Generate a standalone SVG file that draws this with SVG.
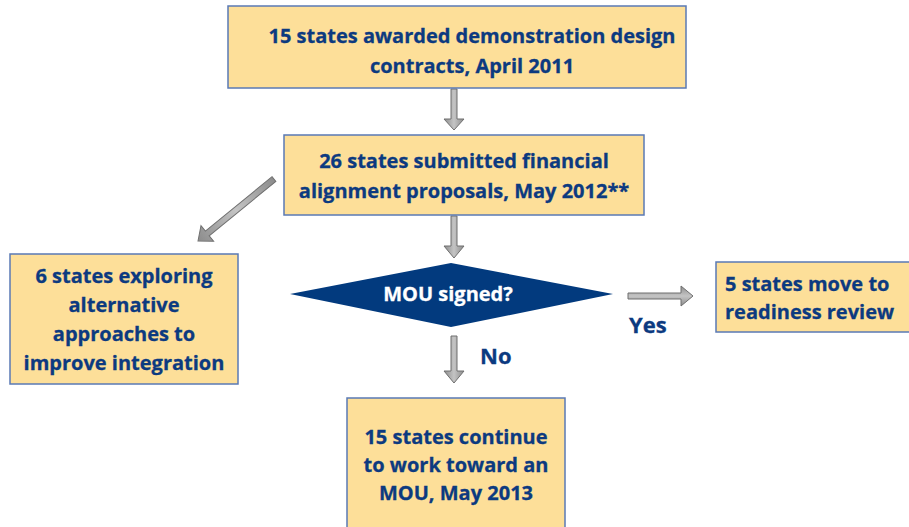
<svg xmlns="http://www.w3.org/2000/svg" width="909" height="527" viewBox="0 0 909 527">
  <defs>
    <linearGradient id="gv" x1="0" y1="0" x2="1" y2="0">
      <stop offset="0" stop-color="#8c8c8c"/>
      <stop offset="0.5" stop-color="#c4c4c4"/>
      <stop offset="1" stop-color="#8c8c8c"/>
    </linearGradient>
    <linearGradient id="gh" x1="0" y1="0" x2="0" y2="1">
      <stop offset="0" stop-color="#8c8c8c"/>
      <stop offset="0.5" stop-color="#c4c4c4"/>
      <stop offset="1" stop-color="#8c8c8c"/>
    </linearGradient>
    <style>
      .box { fill: #fddf99; stroke: #5a7ab5; stroke-width: 1.5; }
      .t { font-family: "Open Sans", Lato, "Liberation Sans", sans-serif; font-weight: bold; font-size: 20px; fill: #0c3a80; stroke: #0c3a80; stroke-width: 0.3; }
      .c { text-anchor: middle; }
      .lbl { font-size: 22px; }
      .arr { stroke: #6f6f6f; stroke-width: 1; }
    </style>
  </defs>

  <g id="connectors">
    <!-- box 1 to box 2 -->
    <path class="arr" fill="url(#gv)" d="M451,89 H457 V119 H464 L454,130 L444,119 H451 Z"/>
    <!-- box 2 to diamond -->
    <path class="arr" fill="url(#gv)" d="M451,216 H457 V246 H464 L454,258 L444,246 H451 Z"/>
    <!-- box 2 to left box (diagonal) -->
    <path class="arr" fill="url(#gv)" transform="translate(198,241) rotate(-39.2)" d="M0,0 L12,-10 L12,-3 L98,-3 L98,3 L12,3 L12,10 Z"/>
    <!-- Yes -->
    <path class="arr" fill="url(#gh)" d="M628,293 H681 V286 L693,296 L681,306 V299 H628 Z"/>
    <!-- No -->
    <path class="arr" fill="url(#gv)" d="M451,336 H457 V371 H464 L454,383 L444,371 H451 Z"/>
    <text class="t lbl" x="629" y="333">Yes</text>
    <text class="t lbl" x="480" y="364">No</text>
  </g>

  <g id="awarded">
    <rect class="box" x="228" y="6" width="458" height="82"/>
    <text class="t c" x="472" y="43">15 states awarded demonstration design</text>
    <text class="t c" x="472" y="73">contracts, April 2011</text>
  </g>

  <g id="submitted">
    <rect class="box" x="284" y="135" width="360" height="80"/>
    <text class="t c" x="464" y="168">26 states submitted financial</text>
    <text class="t c" x="464" y="198">alignment proposals, May 2012**</text>
  </g>

  <g id="exploring">
    <rect class="box" x="10" y="254" width="228" height="130"/>
    <text class="t c" x="124" y="283">6 states exploring</text>
    <text class="t c" x="124" y="312">alternative</text>
    <text class="t c" x="124" y="341">approaches to</text>
    <text class="t c" x="124" y="370">improve integration</text>
  </g>

  <g id="decision">
    <polygon points="290,294 451,263 613,294 451,327" fill="#023a7e"/>
    <text class="t c" x="448" y="301" style="fill:#fff;stroke:#fff">MOU signed?</text>
  </g>

  <g id="readiness">
    <rect class="box" x="716" y="262" width="200" height="70"/>
    <text class="t" x="725" y="291">5 states move to</text>
    <text class="t" x="725" y="319">readiness review</text>
  </g>

  <g id="continue">
    <rect class="box" x="347" y="398" width="218" height="140"/>
    <text class="t c" x="456" y="444">15 states continue</text>
    <text class="t c" x="456" y="472">to work toward an</text>
    <text class="t c" x="456" y="500">MOU, May 2013</text>
  </g>
</svg>
